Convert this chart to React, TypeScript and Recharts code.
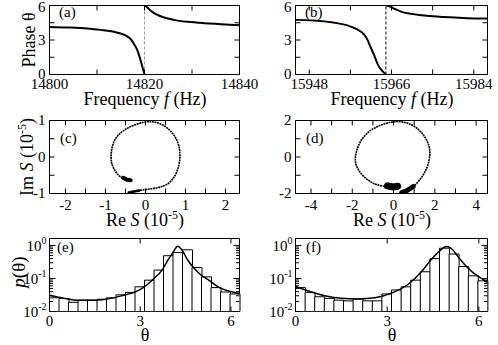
import React from "react";
import {
  ComposedChart, Line, Bar, XAxis, YAxis, ReferenceLine, ReferenceArea,
} from "recharts";

const W = 498;
const H = 345;
const SERIF = '"Liberation Serif", "Times New Roman", serif';
const TWO_PI = 6.2832;

// (a) phase vs frequency around the first resonance
const freqA1 = [14800, 14804, 14808, 14810.8, 14813.6, 14815.4, 14816.4, 14817.1, 14817.8, 14818.4, 14818.9, 14819.4, 14819.8, 14820];
const phaseA1 = [4.14, 4.09, 4.0, 3.88, 3.71, 3.51, 3.3, 3.07, 2.64, 2.2, 1.62, 0.9, 0.3, 0.0];
const freqA2 = [14820.05, 14820.6, 14821.3, 14822.4, 14824.1, 14826.2, 14829.1, 14832.6, 14836.1, 14840];
const phaseA2 = [6.0, 5.83, 5.54, 5.25, 4.96, 4.75, 4.58, 4.46, 4.38, 4.29];
const resA = 14820;

// (b) second resonance
const freqB1 = [15945, 15948.97, 15953.28, 15956.2, 15958.42, 15959.93, 15960.75, 15961.45, 15962.27, 15962.97, 15963.67, 15964.37, 15964.77];
const phaseB1 = [4.75, 4.7, 4.52, 4.29, 3.94, 3.51, 3.01, 2.35, 1.62, 0.9, 0.46, 0.14, 0.0];
const freqB2 = [15964.85, 15965.71, 15966.82, 15968.22, 15970.78, 15973.7, 15977.43, 15982.45, 15987];
const phaseB2 = [6.0, 5.91, 5.68, 5.45, 5.25, 5.1, 4.99, 4.9, 4.87];
const resB = 15964.77;

// (c) Im S vs Re S, in 1e-5
const reC = [-0.39, -0.125, 0.21, 0.5, 0.69, 0.81, 0.86, 0.83, 0.71, 0.5, 0.25, 0.0, -0.29, -0.54, -0.73, -0.83, -0.86, -0.83, -0.74, -0.63, -0.5, -0.39];
const imC = [-0.97, -0.91, -0.86, -0.77, -0.59, -0.32, 0.0, 0.32, 0.6, 0.83, 0.95, 0.96, 0.87, 0.73, 0.53, 0.28, 0.0, -0.22, -0.41, -0.54, -0.62, -0.64];
const reCEnd = [-0.56, -0.47, -0.37];
const imCEnd = [-0.57, -0.62, -0.64];
const reCStart = [-0.42, -0.15];
const imCStart = [-0.97, -0.92];

// (d)
const reD = [0.5, 0.83, 1.19, 1.48, 1.68, 1.76, 1.64, 1.35, 0.91, 0.42, -0.06, -0.63, -1.2, -1.61, -1.8, -1.85, -1.69, -1.37, -0.96, -0.47, 0.02, 0.18];
const imD = [-1.95, -1.73, -1.36, -0.9, -0.36, 0.28, 0.83, 1.34, 1.74, 1.92, 1.92, 1.74, 1.38, 0.83, 0.28, -0.23, -0.72, -1.14, -1.45, -1.6, -1.63, -1.6];
const reDEnd = [-0.3, -0.05, 0.2];
const imDEnd = [-1.58, -1.63, -1.6];
const reDStart = [0.4, 0.7, 0.95];
const imDStart = [-1.95, -1.8, -1.62];

// (e), (f) phase histograms, 20 bins over [0, 2pi]
const binMid = [0.157, 0.471, 0.785, 1.1, 1.414, 1.728, 2.042, 2.356, 2.67, 2.985, 3.299, 3.613, 3.927, 4.241, 4.555, 4.869, 5.184, 5.498, 5.812, 6.126];
const histE = [0.026, 0.0246, 0.019, 0.022, 0.022, 0.0235, 0.026, 0.032, 0.038, 0.056, 0.089, 0.18, 0.49, 0.61, 0.74, 0.215, 0.112, 0.053, 0.039, 0.034];
const histF = [0.053, 0.038, 0.028, 0.025, 0.022, 0.021, 0.024, 0.021, 0.021, 0.034, 0.045, 0.056, 0.089, 0.16, 0.4, 0.83, 0.55, 0.23, 0.12, 0.085];
const fitThE = [0, 0.5, 0.94, 1.5, 2.04, 2.5, 2.8, 3.1, 3.43, 3.74, 3.9, 4.08, 4.24, 4.4, 4.55, 4.76, 4.98, 5.3, 5.62, 6.0, 6.28];
const fitE = [0.031, 0.025, 0.022, 0.022, 0.025, 0.032, 0.038, 0.053, 0.095, 0.19, 0.34, 0.61, 0.95, 0.69, 0.39, 0.215, 0.135, 0.085, 0.053, 0.04, 0.035];
const fitThF = [0, 0.52, 0.96, 1.5, 2.05, 2.6, 3.14, 3.69, 4.12, 4.45, 4.72, 4.94, 5.1, 5.32, 5.54, 5.81, 6.09, 6.28];
const fitF = [0.057, 0.039, 0.03, 0.025, 0.024, 0.026, 0.036, 0.067, 0.16, 0.385, 0.69, 0.93, 0.81, 0.46, 0.26, 0.15, 0.1, 0.076];

// ticks and labels
const ticksA = [14800, 14810, 14820, 14830, 14840];
const labelsA = [14800, 14820, 14840];
const ticksB = [15948, 15957, 15966, 15975, 15984];
const labelsB = [15948, 15966, 15984];
const phaseTicks = [0, 1.5, 3, 4.5, 6];
const phaseLabels = [0, 3, 6];
const reTicksC = [-2, -1.5, -1, -0.5, 0, 0.5, 1, 1.5, 2];
const reLabelsC = [-2, -1, 0, 1, 2];
const imTicksC = [-1, -0.5, 0, 0.5, 1];
const imLabelsC = [-1, 0, 1];
const reTicksD = [-4, -3, -2, -1, 0, 1, 2, 3, 4];
const reLabelsD = [-4, -2, 0, 2, 4];
const imTicksD = [-2, -1, 0, 1, 2];
const imLabelsD = [-2, 0, 2];
const thTicks = [0, 3, 6];
const pMajor = [0.01, 0.1, 1];
const pMinor = [0.02, 0.03, 0.04, 0.05, 0.06, 0.07, 0.08, 0.09, 0.2, 0.3, 0.4, 0.5, 0.6, 0.7, 0.8, 0.9];
const pExp: Record<string, string> = { "1": "0", "0.1": "-1", "0.01": "-2" };

type Box = { left: number; top: number; right: number; bottom: number };
const boxA: Box = { left: 49.5, top: 5.5, right: 239.5, bottom: 74.5 };
const boxB: Box = { left: 295.5, top: 5.5, right: 487.5, bottom: 74.5 };
const boxC: Box = { left: 49.5, top: 120.5, right: 239.5, bottom: 193.5 };
const boxD: Box = { left: 295.5, top: 120.5, right: 487.5, bottom: 193.5 };
const boxE: Box = { left: 49.5, top: 238.5, right: 239.5, bottom: 311.5 };
const boxF: Box = { left: 295.5, top: 238.5, right: 487.5, bottom: 311.5 };

const pts = (xs: number[], ys: number[]) => xs.map((x, i) => ({ x, y: ys[i] }));
// axes get 1px of room each (a zero-size axis is not drawn)
const marginOf = (b: Box) => ({ top: b.top, left: b.left - 1, right: W - b.right, bottom: H - b.bottom - 1 });

const LBL = { fontFamily: SERIF, fontSize: 15 };

function bottomTicks(box: Box, marks: number[], labels: number[], dy: number, len = 5) {
  return (p: any) => {
    const v = p.payload.value;
    const x = p.x;
    return (
      <g>
        {marks.includes(v) ? (
          <path d={`M${x},${box.bottom}v${-len}M${x},${box.top}v${len}`} stroke="#000" fill="none" />
        ) : null}
        {labels.includes(v) ? (
          <text x={x} y={box.bottom + dy} textAnchor="middle" fill="#000" fontFamily={SERIF} fontSize={15} style={LBL}>
            {String(v)}
          </text>
        ) : null}
      </g>
    );
  };
}

function leftTicks(box: Box, marks: number[], labels: number[], len = 5) {
  return (p: any) => {
    const v = p.payload.value;
    const y = p.y;
    return (
      <g>
        {marks.includes(v) ? (
          <path d={`M${box.left},${y}h${len}M${box.right},${y}h${-len}`} stroke="#000" fill="none" />
        ) : null}
        {labels.includes(v) ? (
          <text x={box.left - 4} y={Math.max(y + 4.5, 11.5)} textAnchor="end" fill="#000" fontFamily={SERIF} fontSize={15} style={LBL}>
            {String(v)}
          </text>
        ) : null}
      </g>
    );
  };
}

function logTicks(box: Box) {
  return (p: any) => {
    const v = p.payload.value;
    const y = p.y;
    const major = pMajor.includes(v);
    const len = major ? 6 : 3.5;
    return (
      <g>
        <path d={`M${box.left},${y}h${len}M${box.right},${y}h${-len}`} stroke="#000" fill="none" />
        {major ? (
          <text x={box.left - 3} y={y + 5} textAnchor="end" fill="#000" fontFamily={SERIF} fontSize={15} style={LBL}>
            10<tspan dy={-7} fontSize={10} style={{ fontSize: 10 }}>{pExp[String(v)]}</tspan>
          </text>
        ) : null}
      </g>
    );
  };
}

function PhasePanel({ box, lo, hi, res, dash, domain, ticks, labels }: any) {
  return (
    <div style={{ position: "absolute", left: 0, top: 0 }}>
      <ComposedChart width={W} height={H} margin={marginOf(box)}>
        <XAxis type="number" dataKey="x" domain={domain} allowDataOverflow ticks={Array.from(new Set([...ticks, ...labels]))}
          interval={0} height={1} axisLine={false} tickLine={false} tick={bottomTicks(box, ticks, labels, 14)} />
        <YAxis type="number" domain={[0, 6]} allowDataOverflow ticks={phaseTicks} interval={0} width={1}
          axisLine={false} tickLine={false} tick={leftTicks(box, phaseTicks, phaseLabels)} />
        <ReferenceLine x={res} stroke={dash} strokeDasharray="3 2" />
        <Line data={lo} dataKey="y" type="monotone" stroke="#000" strokeWidth={2} dot={false} isAnimationActive={false} />
        <Line data={hi} dataKey="y" type="monotone" stroke="#000" strokeWidth={2} dot={false} isAnimationActive={false} />
        <ReferenceArea x1={domain[0]} x2={domain[1]} y1={0} y2={6} fill="none" stroke="#000" ifOverflow="visible" />
      </ComposedChart>
    </div>
  );
}

function LoopPanel({ box, loop, start, end, xDomain, yDomain, xTicks, xLabels, yTicks, yLabels, blob }: any) {
  return (
    <div style={{ position: "absolute", left: 0, top: 0 }}>
      <ComposedChart width={W} height={H} margin={marginOf(box)}>
        <XAxis type="number" dataKey="x" domain={xDomain} allowDataOverflow ticks={xTicks} interval={0} height={1}
          axisLine={false} tickLine={false} tick={bottomTicks(box, xTicks, xLabels, 16)} />
        <YAxis type="number" domain={yDomain} allowDataOverflow ticks={yTicks} interval={0} width={1}
          axisLine={false} tickLine={false} tick={leftTicks(box, yTicks, yLabels)} />
        <Line data={loop} dataKey="y" type="natural" stroke="#000" strokeWidth={1.6} strokeDasharray="2 0.6" dot={false} isAnimationActive={false} />
        <Line data={start} dataKey="y" type="natural" stroke="#000" strokeWidth={blob[0]} strokeLinecap="round" dot={false} isAnimationActive={false} />
        <Line data={end} dataKey="y" type="natural" stroke="#000" strokeWidth={blob[1]} strokeLinecap="round" dot={false} isAnimationActive={false} />
        <ReferenceArea x1={xDomain[0]} x2={xDomain[1]} y1={yDomain[0]} y2={yDomain[1]} fill="none" stroke="#000" ifOverflow="visible" />
      </ComposedChart>
    </div>
  );
}

function HistPanel({ box, hist, fit }: any) {
  const data = binMid.map((mid, i) => ({ mid, p: hist[i] }));
  return (
    <div style={{ position: "absolute", left: 0, top: 0 }}>
      <ComposedChart width={W} height={H} data={data} margin={marginOf(box)} barCategoryGap={0} barGap={0}>
        <XAxis xAxisId="bins" type="category" dataKey="mid" hide />
        <XAxis xAxisId="th" type="number" dataKey="x" domain={[0, TWO_PI]} allowDataOverflow ticks={thTicks} interval={0}
          height={1} axisLine={false} tickLine={false} tick={bottomTicks(box, thTicks, thTicks, 14)} />
        <YAxis type="number" scale="log" domain={[0.01, 1.63]} allowDataOverflow ticks={[...pMajor, ...pMinor]} interval={0}
          width={1} axisLine={false} tickLine={false} tick={logTicks(box)} />
        <Bar xAxisId="bins" dataKey="p" fill="#fff" stroke="#000" strokeWidth={1} isAnimationActive={false} />
        <Line xAxisId="th" data={fit} dataKey="y" type="monotone" stroke="#000" strokeWidth={1.5} dot={false} isAnimationActive={false} />
        <ReferenceArea xAxisId="th" x1={0} x2={TWO_PI} y1={0.01} y2={1.63} fill="none" stroke="#000" ifOverflow="visible" />
      </ComposedChart>
    </div>
  );
}

function Txt({ x, y, size, anchor, rotate, children }: any) {
  return (
    <text x={rotate ? 0 : x} y={rotate ? 0 : y} transform={rotate ? `translate(${x},${y}) rotate(-90)` : undefined}
      textAnchor={anchor || "start"} fill="#000" fontFamily={SERIF} fontSize={size} style={{ fontFamily: SERIF, fontSize: size }}>
      {children}
    </text>
  );
}

const sup = (s: string) => (
  <>
    <tspan dy={-7} fontSize={12} style={{ fontSize: 12 }}>{s}</tspan>
    <tspan dy={7}>)</tspan>
  </>
);

function Titles() {
  return (
    <svg width={W} height={H} style={{ position: "absolute", left: 0, top: 0, pointerEvents: "none" }}>
      <Txt x={59} y={17} size={15}>(a)</Txt>
      <Txt x={305} y={17} size={15}>(b)</Txt>
      <Txt x={60} y={143} size={15}>(c)</Txt>
      <Txt x={306} y={143} size={15}>(d)</Txt>
      <Txt x={57} y={252} size={15}>(e)</Txt>
      <Txt x={306} y={252} size={15}>(f)</Txt>
      <Txt x={145} y={105} size={18} anchor="middle">Frequency <tspan fontStyle="italic">f</tspan> (Hz)</Txt>
      <Txt x={392} y={105} size={18} anchor="middle">Frequency <tspan fontStyle="italic">f</tspan> (Hz)</Txt>
      <Txt x={145} y={226} size={18} anchor="middle">Re <tspan fontStyle="italic">S</tspan> (10{sup("-5")}</Txt>
      <Txt x={392} y={226} size={18} anchor="middle">Re <tspan fontStyle="italic">S</tspan> (10{sup("-5")}</Txt>
      <Txt x={145} y={341} size={18} anchor="middle">θ</Txt>
      <Txt x={392} y={341} size={18} anchor="middle">θ</Txt>
      <Txt x={35} y={40} size={18} anchor="middle" rotate>Phase θ</Txt>
      <Txt x={33} y={157} size={18} anchor="middle" rotate>Im <tspan fontStyle="italic">S</tspan> (10{sup("-5")}</Txt>
      <Txt x={25} y={272} size={19} anchor="middle" rotate><tspan fontStyle="italic">p</tspan>(θ)</Txt>
    </svg>
  );
}

export default function App() {
  return (
    <div style={{ position: "absolute", left: 0, top: 0, width: W, height: H, background: "#fff", fontFamily: SERIF }}>
      <PhasePanel box={boxA} lo={pts(freqA1, phaseA1)} hi={pts(freqA2, phaseA2)} res={resA} dash="#999"
        domain={[14800, 14840]} ticks={ticksA} labels={labelsA} />
      <PhasePanel box={boxB} lo={pts(freqB1, phaseB1)} hi={pts(freqB2, phaseB2)} res={resB} dash="#000"
        domain={[15945, 15987]} ticks={ticksB} labels={labelsB} />
      <LoopPanel box={boxC} loop={pts(reC, imC)} start={pts(reCStart, imCStart)} end={pts(reCEnd, imCEnd)}
        xDomain={[-2.4, 2.35]} yDomain={[-1, 1]} xTicks={reTicksC} xLabels={reLabelsC} yTicks={imTicksC} yLabels={imLabelsC} blob={[2.5, 4]} />
      <LoopPanel box={boxD} loop={pts(reD, imD)} start={pts(reDStart, imDStart)} end={pts(reDEnd, imDEnd)}
        xDomain={[-4.75, 4.55]} yDomain={[-2, 2]} xTicks={reTicksD} xLabels={reLabelsD} yTicks={imTicksD} yLabels={imLabelsD} blob={[5, 7]} />
      <HistPanel box={boxE} hist={histE} fit={pts(fitThE, fitE)} />
      <HistPanel box={boxF} hist={histF} fit={pts(fitThF, fitF)} />
      <Titles />
    </div>
  );
}
